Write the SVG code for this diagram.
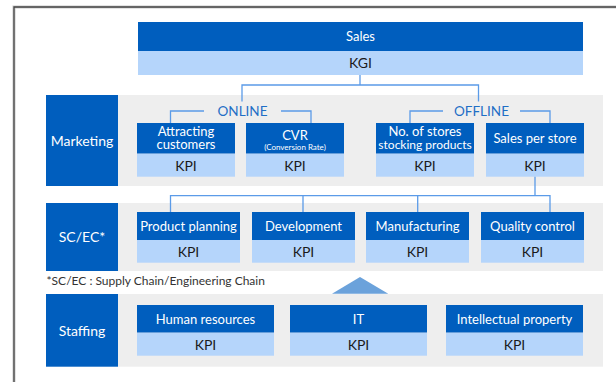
<svg xmlns="http://www.w3.org/2000/svg" width="616" height="382" viewBox="0 0 616 382">
<style>
text{font-family:Lato,"Noto Sans","Liberation Sans",sans-serif;text-anchor:middle}
.dk{fill:#005EBE}
.lt{fill:#B5D5FB}
.band{fill:#EEEEEE}
.w{fill:#FFFFFF;font-size:13px}
.k{fill:#1A1A1A;font-size:14px}
.cat{fill:#FFFFFF;font-size:14px}
.lbl{fill:#1F6FC6;font-size:13.5px}
.con{fill:none;stroke:#5B9BE8;stroke-width:1.3}
</style>
<rect width="616" height="382" fill="#FFFFFF"/>
<path d="M14 382 V7 H616" fill="none" stroke="#C8C8C8" stroke-width="3"/>
<path d="M14 382 V7 H616" fill="none" stroke="#444444" stroke-width="1.3"/>

<g id="sales">
<rect class="dk" x="138" y="22" width="445" height="29"/>
<rect class="lt" x="138" y="51" width="445" height="24"/>
<text class="w" x="360.5" y="41">Sales</text>
<text class="k" x="360.5" y="68">KGI</text>
</g>

<g id="marketing">
<rect class="band" x="118" y="95" width="485" height="91"/>
<rect class="dk" x="46" y="95" width="72" height="91"/>
<text class="cat" x="82" y="145.5">Marketing</text>
</g>
<g id="attracting">
<rect class="dk" x="137" y="123" width="98" height="30.7"/>
<rect class="lt" x="137" y="153.7" width="98" height="23"/>
<text class="w" x="186" y="136">Attracting</text>
<text class="w" x="186" y="149">customers</text>
<text class="k" x="186" y="170.5">KPI</text>
</g>
<g id="cvr">
<rect class="dk" x="246" y="123" width="98" height="30.7"/>
<rect class="lt" x="246" y="153.7" width="98" height="23"/>
<text class="w" x="295" y="139.5">CVR</text>
<text class="w" x="295" y="149.5" style="font-size:8px">(Conversion Rate)</text>
<text class="k" x="295" y="170.5">KPI</text>
</g>
<g id="stores">
<rect class="dk" x="376" y="123" width="98" height="30.7"/>
<rect class="lt" x="376" y="153.7" width="98" height="23"/>
<text class="w" x="425" y="136">No. of stores</text>
<text class="w" x="425" y="149" style="font-size:12px">stocking products</text>
<text class="k" x="425" y="170.5">KPI</text>
</g>
<g id="perstore">
<rect class="dk" x="486" y="123" width="98" height="30.7"/>
<rect class="lt" x="486" y="153.7" width="98" height="23"/>
<text class="w" x="535" y="143">Sales per store</text>
<text class="k" x="535" y="170.5">KPI</text>
</g>

<g id="scec">
<rect class="band" x="118" y="203" width="485" height="68"/>
<rect class="dk" x="46" y="203" width="72" height="68"/>
<text class="cat" x="82" y="242">SC/EC*</text>
</g>
<g id="planning">
<rect class="dk" x="137" y="212" width="103" height="28"/>
<rect class="lt" x="137" y="240" width="103" height="22.7"/>
<text class="w" x="188.5" y="230.5">Product planning</text>
<text class="k" x="188.5" y="256.5">KPI</text>
</g>
<g id="development">
<rect class="dk" x="252" y="212" width="103" height="28"/>
<rect class="lt" x="252" y="240" width="103" height="22.7"/>
<text class="w" x="303.5" y="230.5">Development</text>
<text class="k" x="303.5" y="256.5">KPI</text>
</g>
<g id="manufacturing">
<rect class="dk" x="366" y="212" width="103" height="28"/>
<rect class="lt" x="366" y="240" width="103" height="22.7"/>
<text class="w" x="417.5" y="230.5">Manufacturing</text>
<text class="k" x="417.5" y="256.5">KPI</text>
</g>
<g id="quality">
<rect class="dk" x="481" y="212" width="103" height="28"/>
<rect class="lt" x="481" y="240" width="103" height="22.7"/>
<text class="w" x="532.5" y="230.5">Quality control</text>
<text class="k" x="532.5" y="256.5">KPI</text>
</g>
<text x="46.5" y="284.5" style="text-anchor:start;font-size:12px;fill:#333333">*SC/EC : Supply Chain/Engineering Chain</text>

<polygon points="360,277 388.3,293.7 332,293.7" fill="#6BA2DB"/>

<g id="staffing">
<rect class="band" x="118" y="294" width="485" height="72.7"/>
<rect class="dk" x="46" y="294" width="72" height="72.7"/>
<text class="cat" x="82" y="335.5">Staffing</text>
</g>
<g id="hr">
<rect class="dk" x="137" y="305" width="137" height="27.7"/>
<rect class="lt" x="137" y="332.7" width="137" height="23"/>
<text class="w" x="205.5" y="323.5">Human resources</text>
<text class="k" x="205.5" y="349.5">KPI</text>
</g>
<g id="it">
<rect class="dk" x="290" y="305" width="137" height="27.7"/>
<rect class="lt" x="290" y="332.7" width="137" height="23"/>
<text class="w" x="358.5" y="323.5">IT</text>
<text class="k" x="358.5" y="349.5">KPI</text>
</g>
<g id="ip">
<rect class="dk" x="446" y="305" width="137" height="27.7"/>
<rect class="lt" x="446" y="332.7" width="137" height="23"/>
<text class="w" x="514.5" y="323.5">Intellectual property</text>
<text class="k" x="514.5" y="349.5">KPI</text>
</g>

<g id="connectors">
<path class="con" d="M360 75 V85 M242 101.5 V85 H478.5 V101.5"/>
<path class="con" d="M170.5 123 V111 H204 M281 111 H311 V123"/>
<path class="con" d="M410 123 V111 H443 M520 111 H550 V123"/>
<path class="con" d="M535 176.7 V195.7 M170.5 212 V195.7 H550 V212 M303 195.7 V212 M417.7 195.7 V212"/>
<text class="lbl" x="242.5" y="116">ONLINE</text>
<text class="lbl" x="481.5" y="116">OFFLINE</text>
</g>
</svg>
